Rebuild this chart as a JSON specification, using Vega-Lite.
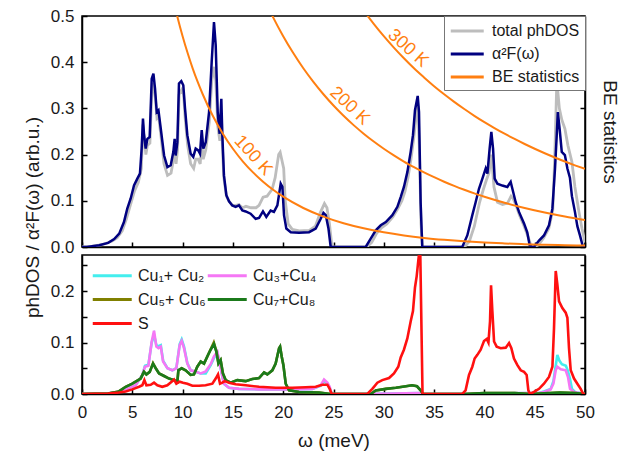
{
  "$schema": "https://vega.github.io/schema/vega-lite/v6.json",
  "padding": {"left": 22, "top": 6, "right": 5, "bottom": 5},
  "bounds": "flush",
  "spacing": 8,
  "config": {
    "font": "Liberation Sans",
    "view": {"stroke": "black", "strokeWidth": 1.5},
    "axis": {"domainColor": "black", "domainWidth": 1.5, "tickColor": "black", "tickWidth": 1.5, "tickSize": -5, "labelFontSize": 17, "labelColor": "#1a1a1a", "titleFontSize": 19, "titleFontWeight": "normal", "titleColor": "#1a1a1a", "grid": false, "labelPadding": 13, "labelFlush": false, "labelOverlap": false}
  },
  "datasets": {
    "top": [
      {"w":0,"v":0,"s":"total phDOS"},{"w":1,"v":0.002,"s":"total phDOS"},{"w":2,"v":0.005,"s":"total phDOS"},{"w":3,"v":0.013,"s":"total phDOS"},{"w":3.5,"v":0.02,"s":"total phDOS"},{"w":4,"v":0.035,"s":"total phDOS"},{"w":4.4,"v":0.06,"s":"total phDOS"},{"w":4.8,"v":0.09,"s":"total phDOS"},{"w":5.2,"v":0.12,"s":"total phDOS"},{"w":5.6,"v":0.14,"s":"total phDOS"},{"w":5.9,"v":0.17,"s":"total phDOS"},{"w":6.05,"v":0.265,"s":"total phDOS"},{"w":6.2,"v":0.23,"s":"total phDOS"},{"w":6.35,"v":0.2,"s":"total phDOS"},{"w":6.5,"v":0.22,"s":"total phDOS"},{"w":6.75,"v":0.225,"s":"total phDOS"},{"w":6.95,"v":0.34,"s":"total phDOS"},{"w":7.1,"v":0.355,"s":"total phDOS"},{"w":7.3,"v":0.32,"s":"total phDOS"},{"w":7.45,"v":0.28,"s":"total phDOS"},{"w":7.6,"v":0.285,"s":"total phDOS"},{"w":7.85,"v":0.24,"s":"total phDOS"},{"w":8.15,"v":0.18,"s":"total phDOS"},{"w":8.5,"v":0.155,"s":"total phDOS"},{"w":8.85,"v":0.16,"s":"total phDOS"},{"w":9.1,"v":0.19,"s":"total phDOS"},{"w":9.25,"v":0.215,"s":"total phDOS"},{"w":9.35,"v":0.18,"s":"total phDOS"},{"w":9.5,"v":0.21,"s":"total phDOS"},{"w":9.65,"v":0.33,"s":"total phDOS"},{"w":9.9,"v":0.34,"s":"total phDOS"},{"w":10.1,"v":0.33,"s":"total phDOS"},{"w":10.25,"v":0.28,"s":"total phDOS"},{"w":10.5,"v":0.22,"s":"total phDOS"},{"w":10.8,"v":0.18,"s":"total phDOS"},{"w":11.1,"v":0.17,"s":"total phDOS"},{"w":11.3,"v":0.19,"s":"total phDOS"},{"w":11.55,"v":0.19,"s":"total phDOS"},{"w":11.75,"v":0.18,"s":"total phDOS"},{"w":11.9,"v":0.23,"s":"total phDOS"},{"w":12.05,"v":0.19,"s":"total phDOS"},{"w":12.3,"v":0.21,"s":"total phDOS"},{"w":12.65,"v":0.27,"s":"total phDOS"},{"w":12.9,"v":0.36,"s":"total phDOS"},{"w":13.12,"v":0.39,"s":"total phDOS"},{"w":13.3,"v":0.36,"s":"total phDOS"},{"w":13.5,"v":0.26,"s":"total phDOS"},{"w":13.7,"v":0.23,"s":"total phDOS"},{"w":13.85,"v":0.29,"s":"total phDOS"},{"w":13.95,"v":0.22,"s":"total phDOS"},{"w":14.1,"v":0.15,"s":"total phDOS"},{"w":14.35,"v":0.11,"s":"total phDOS"},{"w":14.6,"v":0.1,"s":"total phDOS"},{"w":14.95,"v":0.09,"s":"total phDOS"},{"w":15.3,"v":0.09,"s":"total phDOS"},{"w":15.6,"v":0.092,"s":"total phDOS"},{"w":15.95,"v":0.085,"s":"total phDOS"},{"w":16.3,"v":0.088,"s":"total phDOS"},{"w":16.8,"v":0.085,"s":"total phDOS"},{"w":17.3,"v":0.085,"s":"total phDOS"},{"w":17.6,"v":0.09,"s":"total phDOS"},{"w":18,"v":0.108,"s":"total phDOS"},{"w":18.4,"v":0.11,"s":"total phDOS"},{"w":18.9,"v":0.125,"s":"total phDOS"},{"w":19.2,"v":0.15,"s":"total phDOS"},{"w":19.55,"v":0.2,"s":"total phDOS"},{"w":19.7,"v":0.205,"s":"total phDOS"},{"w":19.85,"v":0.19,"s":"total phDOS"},{"w":20.05,"v":0.17,"s":"total phDOS"},{"w":20.2,"v":0.1,"s":"total phDOS"},{"w":20.5,"v":0.05,"s":"total phDOS"},{"w":20.9,"v":0.038,"s":"total phDOS"},{"w":21.6,"v":0.035,"s":"total phDOS"},{"w":22.6,"v":0.036,"s":"total phDOS"},{"w":23.2,"v":0.045,"s":"total phDOS"},{"w":23.7,"v":0.075,"s":"total phDOS"},{"w":24.1,"v":0.094,"s":"total phDOS"},{"w":24.35,"v":0.085,"s":"total phDOS"},{"w":24.6,"v":0.05,"s":"total phDOS"},{"w":24.85,"v":0,"s":"total phDOS"},{"w":28.3,"v":0,"s":"total phDOS"},{"w":28.8,"v":0.01,"s":"total phDOS"},{"w":29.3,"v":0.03,"s":"total phDOS"},{"w":29.8,"v":0.042,"s":"total phDOS"},{"w":30.3,"v":0.05,"s":"total phDOS"},{"w":30.9,"v":0.065,"s":"total phDOS"},{"w":31.4,"v":0.083,"s":"total phDOS"},{"w":31.8,"v":0.1,"s":"total phDOS"},{"w":32.1,"v":0.12,"s":"total phDOS"},{"w":32.4,"v":0.15,"s":"total phDOS"},{"w":32.7,"v":0.19,"s":"total phDOS"},{"w":33,"v":0.24,"s":"total phDOS"},{"w":33.2,"v":0.28,"s":"total phDOS"},{"w":33.4,"v":0.305,"s":"total phDOS"},{"w":33.55,"v":0.2,"s":"total phDOS"},{"w":33.7,"v":0.05,"s":"total phDOS"},{"w":33.85,"v":0,"s":"total phDOS"},{"w":38,"v":0,"s":"total phDOS"},{"w":38.5,"v":0.012,"s":"total phDOS"},{"w":39,"v":0.045,"s":"total phDOS"},{"w":39.5,"v":0.095,"s":"total phDOS"},{"w":39.9,"v":0.125,"s":"total phDOS"},{"w":40.2,"v":0.145,"s":"total phDOS"},{"w":40.45,"v":0.16,"s":"total phDOS"},{"w":40.7,"v":0.2,"s":"total phDOS"},{"w":40.95,"v":0.13,"s":"total phDOS"},{"w":41.3,"v":0.097,"s":"total phDOS"},{"w":41.8,"v":0.092,"s":"total phDOS"},{"w":42.3,"v":0.095,"s":"total phDOS"},{"w":42.65,"v":0.11,"s":"total phDOS"},{"w":42.85,"v":0.105,"s":"total phDOS"},{"w":43.15,"v":0.09,"s":"total phDOS"},{"w":43.5,"v":0.068,"s":"total phDOS"},{"w":43.95,"v":0.045,"s":"total phDOS"},{"w":44.3,"v":0.025,"s":"total phDOS"},{"w":44.6,"v":0.005,"s":"total phDOS"},{"w":44.9,"v":0,"s":"total phDOS"},{"w":45.4,"v":0.005,"s":"total phDOS"},{"w":45.9,"v":0.02,"s":"total phDOS"},{"w":46.4,"v":0.04,"s":"total phDOS"},{"w":46.8,"v":0.08,"s":"total phDOS"},{"w":47,"v":0.2,"s":"total phDOS"},{"w":47.2,"v":0.36,"s":"total phDOS"},{"w":47.45,"v":0.3,"s":"total phDOS"},{"w":47.7,"v":0.275,"s":"total phDOS"},{"w":48,"v":0.256,"s":"total phDOS"},{"w":48.3,"v":0.22,"s":"total phDOS"},{"w":48.7,"v":0.184,"s":"total phDOS"},{"w":49,"v":0.13,"s":"total phDOS"},{"w":49.4,"v":0.076,"s":"total phDOS"},{"w":49.7,"v":0.04,"s":"total phDOS"},{"w":50,"v":0.01,"s":"total phDOS"},
      {"w":0,"v":0,"s":"α²F(ω)"},{"w":0.5,"v":0,"s":"α²F(ω)"},{"w":1.7,"v":0.004,"s":"α²F(ω)"},{"w":2.6,"v":0.009,"s":"α²F(ω)"},{"w":3.2,"v":0.017,"s":"α²F(ω)"},{"w":3.7,"v":0.029,"s":"α²F(ω)"},{"w":4.17,"v":0.054,"s":"α²F(ω)"},{"w":4.34,"v":0.069,"s":"α²F(ω)"},{"w":4.5,"v":0.083,"s":"α²F(ω)"},{"w":4.84,"v":0.105,"s":"α²F(ω)"},{"w":5.17,"v":0.133,"s":"α²F(ω)"},{"w":5.5,"v":0.148,"s":"α²F(ω)"},{"w":5.76,"v":0.159,"s":"α²F(ω)"},{"w":5.93,"v":0.213,"s":"α²F(ω)"},{"w":6.06,"v":0.278,"s":"α²F(ω)"},{"w":6.16,"v":0.245,"s":"α²F(ω)"},{"w":6.33,"v":0.213,"s":"α²F(ω)"},{"w":6.5,"v":0.234,"s":"α²F(ω)"},{"w":6.73,"v":0.238,"s":"α²F(ω)"},{"w":6.93,"v":0.364,"s":"α²F(ω)"},{"w":7.1,"v":0.375,"s":"α²F(ω)"},{"w":7.26,"v":0.343,"s":"α²F(ω)"},{"w":7.43,"v":0.292,"s":"α²F(ω)"},{"w":7.6,"v":0.296,"s":"α²F(ω)"},{"w":7.83,"v":0.256,"s":"α²F(ω)"},{"w":8.16,"v":0.198,"s":"α²F(ω)"},{"w":8.49,"v":0.173,"s":"α²F(ω)"},{"w":8.82,"v":0.177,"s":"α²F(ω)"},{"w":9.08,"v":0.206,"s":"α²F(ω)"},{"w":9.21,"v":0.234,"s":"α²F(ω)"},{"w":9.31,"v":0.198,"s":"α²F(ω)"},{"w":9.48,"v":0.227,"s":"α²F(ω)"},{"w":9.64,"v":0.354,"s":"α²F(ω)"},{"w":9.87,"v":0.359,"s":"α²F(ω)"},{"w":10.07,"v":0.35,"s":"α²F(ω)"},{"w":10.24,"v":0.3,"s":"α²F(ω)"},{"w":10.47,"v":0.242,"s":"α²F(ω)"},{"w":10.8,"v":0.202,"s":"α²F(ω)"},{"w":11.06,"v":0.195,"s":"α²F(ω)"},{"w":11.3,"v":0.213,"s":"α²F(ω)"},{"w":11.56,"v":0.209,"s":"α²F(ω)"},{"w":11.73,"v":0.202,"s":"α²F(ω)"},{"w":11.9,"v":0.253,"s":"α²F(ω)"},{"w":12.06,"v":0.213,"s":"α²F(ω)"},{"w":12.3,"v":0.227,"s":"α²F(ω)"},{"w":12.63,"v":0.292,"s":"α²F(ω)"},{"w":12.89,"v":0.4,"s":"α²F(ω)"},{"w":13.12,"v":0.487,"s":"α²F(ω)"},{"w":13.29,"v":0.437,"s":"α²F(ω)"},{"w":13.49,"v":0.292,"s":"α²F(ω)"},{"w":13.68,"v":0.245,"s":"α²F(ω)"},{"w":13.85,"v":0.321,"s":"α²F(ω)"},{"w":13.95,"v":0.242,"s":"α²F(ω)"},{"w":14.11,"v":0.155,"s":"α²F(ω)"},{"w":14.35,"v":0.112,"s":"α²F(ω)"},{"w":14.61,"v":0.099,"s":"α²F(ω)"},{"w":14.94,"v":0.09,"s":"α²F(ω)"},{"w":15.27,"v":0.087,"s":"α²F(ω)"},{"w":15.6,"v":0.09,"s":"α²F(ω)"},{"w":15.94,"v":0.079,"s":"α²F(ω)"},{"w":16.27,"v":0.077,"s":"α²F(ω)"},{"w":16.76,"v":0.072,"s":"α²F(ω)"},{"w":17.26,"v":0.061,"s":"α²F(ω)"},{"w":17.6,"v":0.063,"s":"α²F(ω)"},{"w":17.99,"v":0.077,"s":"α²F(ω)"},{"w":18.32,"v":0.065,"s":"α²F(ω)"},{"w":18.75,"v":0.079,"s":"α²F(ω)"},{"w":19.08,"v":0.076,"s":"α²F(ω)"},{"w":19.42,"v":0.09,"s":"α²F(ω)"},{"w":19.75,"v":0.137,"s":"α²F(ω)"},{"w":19.92,"v":0.13,"s":"α²F(ω)"},{"w":20.08,"v":0.069,"s":"α²F(ω)"},{"w":20.31,"v":0.04,"s":"α²F(ω)"},{"w":20.75,"v":0.032,"s":"α²F(ω)"},{"w":21.57,"v":0.031,"s":"α²F(ω)"},{"w":22.57,"v":0.032,"s":"α²F(ω)"},{"w":23.23,"v":0.04,"s":"α²F(ω)"},{"w":23.73,"v":0.061,"s":"α²F(ω)"},{"w":24,"v":0.074,"s":"α²F(ω)"},{"w":24.23,"v":0.069,"s":"α²F(ω)"},{"w":24.5,"v":0.04,"s":"α²F(ω)"},{"w":24.72,"v":0,"s":"α²F(ω)"},{"w":28.2,"v":0,"s":"α²F(ω)"},{"w":28.7,"v":0.018,"s":"α²F(ω)"},{"w":29.2,"v":0.036,"s":"α²F(ω)"},{"w":29.7,"v":0.047,"s":"α²F(ω)"},{"w":30.2,"v":0.054,"s":"α²F(ω)"},{"w":30.85,"v":0.069,"s":"α²F(ω)"},{"w":31.35,"v":0.087,"s":"α²F(ω)"},{"w":31.68,"v":0.108,"s":"α²F(ω)"},{"w":32,"v":0.13,"s":"α²F(ω)"},{"w":32.34,"v":0.162,"s":"α²F(ω)"},{"w":32.67,"v":0.206,"s":"α²F(ω)"},{"w":32.9,"v":0.242,"s":"α²F(ω)"},{"w":33.1,"v":0.296,"s":"α²F(ω)"},{"w":33.37,"v":0.327,"s":"α²F(ω)"},{"w":33.5,"v":0.292,"s":"α²F(ω)"},{"w":33.66,"v":0.097,"s":"α²F(ω)"},{"w":33.82,"v":0,"s":"α²F(ω)"},{"w":37.8,"v":0,"s":"α²F(ω)"},{"w":38.3,"v":0.025,"s":"α²F(ω)"},{"w":38.8,"v":0.069,"s":"α²F(ω)"},{"w":39.13,"v":0.097,"s":"α²F(ω)"},{"w":39.46,"v":0.126,"s":"α²F(ω)"},{"w":39.8,"v":0.148,"s":"α²F(ω)"},{"w":40.13,"v":0.17,"s":"α²F(ω)"},{"w":40.3,"v":0.159,"s":"α²F(ω)"},{"w":40.52,"v":0.213,"s":"α²F(ω)"},{"w":40.69,"v":0.249,"s":"α²F(ω)"},{"w":40.86,"v":0.213,"s":"α²F(ω)"},{"w":41.02,"v":0.148,"s":"α²F(ω)"},{"w":41.29,"v":0.137,"s":"α²F(ω)"},{"w":41.78,"v":0.133,"s":"α²F(ω)"},{"w":42.28,"v":0.13,"s":"α²F(ω)"},{"w":42.61,"v":0.141,"s":"α²F(ω)"},{"w":42.78,"v":0.126,"s":"α²F(ω)"},{"w":43.11,"v":0.097,"s":"α²F(ω)"},{"w":43.44,"v":0.076,"s":"α²F(ω)"},{"w":43.94,"v":0.051,"s":"α²F(ω)"},{"w":44.26,"v":0.032,"s":"α²F(ω)"},{"w":44.5,"v":0.004,"s":"α²F(ω)"},{"w":44.76,"v":0,"s":"α²F(ω)"},{"w":44.92,"v":0,"s":"α²F(ω)"},{"w":45.43,"v":0.014,"s":"α²F(ω)"},{"w":45.92,"v":0.025,"s":"α²F(ω)"},{"w":46.42,"v":0.047,"s":"α²F(ω)"},{"w":46.76,"v":0.083,"s":"α²F(ω)"},{"w":47.02,"v":0.17,"s":"α²F(ω)"},{"w":47.19,"v":0.242,"s":"α²F(ω)"},{"w":47.3,"v":0.292,"s":"α²F(ω)"},{"w":47.49,"v":0.253,"s":"α²F(ω)"},{"w":47.69,"v":0.206,"s":"α²F(ω)"},{"w":48,"v":0.199,"s":"α²F(ω)"},{"w":48.25,"v":0.17,"s":"α²F(ω)"},{"w":48.5,"v":0.15,"s":"α²F(ω)"},{"w":48.7,"v":0.11,"s":"α²F(ω)"},{"w":49,"v":0.076,"s":"α²F(ω)"},{"w":49.24,"v":0.045,"s":"α²F(ω)"},{"w":49.5,"v":0.025,"s":"α²F(ω)"},{"w":49.8,"v":0,"s":"α²F(ω)"},{"w":50,"v":0,"s":"α²F(ω)"}
    ],
    "be": [
      {"w":9,"v":0.543,"T":"100 K","s":"BE statistics"},{"w":9.5,"v":0.497,"T":"100 K","s":"BE statistics"},{"w":10,"v":0.4563,"T":"100 K","s":"BE statistics"},{"w":10.5,"v":0.4198,"T":"100 K","s":"BE statistics"},{"w":11,"v":0.3868,"T":"100 K","s":"BE statistics"},{"w":11.5,"v":0.3573,"T":"100 K","s":"BE statistics"},{"w":12,"v":0.3306,"T":"100 K","s":"BE statistics"},{"w":13,"v":0.284,"T":"100 K","s":"BE statistics"},{"w":14,"v":0.2453,"T":"100 K","s":"BE statistics"},{"w":15,"v":0.2127,"T":"100 K","s":"BE statistics"},{"w":16,"v":0.185,"T":"100 K","s":"BE statistics"},{"w":17,"v":0.1615,"T":"100 K","s":"BE statistics"},{"w":18,"v":0.1413,"T":"100 K","s":"BE statistics"},{"w":19,"v":0.1239,"T":"100 K","s":"BE statistics"},{"w":20,"v":0.1089,"T":"100 K","s":"BE statistics"},{"w":22,"v":0.0844,"T":"100 K","s":"BE statistics"},{"w":24,"v":0.0658,"T":"100 K","s":"BE statistics"},{"w":26,"v":0.0514,"T":"100 K","s":"BE statistics"},{"w":28,"v":0.0404,"T":"100 K","s":"BE statistics"},{"w":30,"v":0.0318,"T":"100 K","s":"BE statistics"},{"w":32,"v":0.025,"T":"100 K","s":"BE statistics"},{"w":34,"v":0.0197,"T":"100 K","s":"BE statistics"},{"w":36,"v":0.0156,"T":"100 K","s":"BE statistics"},{"w":38,"v":0.0123,"T":"100 K","s":"BE statistics"},{"w":40,"v":0.0097,"T":"100 K","s":"BE statistics"},{"w":42,"v":0.0077,"T":"100 K","s":"BE statistics"},{"w":44,"v":0.0061,"T":"100 K","s":"BE statistics"},{"w":46,"v":0.0048,"T":"100 K","s":"BE statistics"},{"w":48,"v":0.0038,"T":"100 K","s":"BE statistics"},{"w":50,"v":0.003,"T":"100 K","s":"BE statistics"},
      {"w":18,"v":0.543,"T":"200 K","s":"BE statistics"},{"w":19,"v":0.4971,"T":"200 K","s":"BE statistics"},{"w":20,"v":0.4563,"T":"200 K","s":"BE statistics"},{"w":21,"v":0.4198,"T":"200 K","s":"BE statistics"},{"w":22,"v":0.3868,"T":"200 K","s":"BE statistics"},{"w":23,"v":0.3574,"T":"200 K","s":"BE statistics"},{"w":24,"v":0.3306,"T":"200 K","s":"BE statistics"},{"w":25,"v":0.3062,"T":"200 K","s":"BE statistics"},{"w":26,"v":0.284,"T":"200 K","s":"BE statistics"},{"w":27,"v":0.2638,"T":"200 K","s":"BE statistics"},{"w":28,"v":0.2453,"T":"200 K","s":"BE statistics"},{"w":29,"v":0.2283,"T":"200 K","s":"BE statistics"},{"w":30,"v":0.2127,"T":"200 K","s":"BE statistics"},{"w":31,"v":0.1984,"T":"200 K","s":"BE statistics"},{"w":32,"v":0.185,"T":"200 K","s":"BE statistics"},{"w":33,"v":0.1729,"T":"200 K","s":"BE statistics"},{"w":34,"v":0.1615,"T":"200 K","s":"BE statistics"},{"w":35,"v":0.1511,"T":"200 K","s":"BE statistics"},{"w":36,"v":0.1413,"T":"200 K","s":"BE statistics"},{"w":37,"v":0.1323,"T":"200 K","s":"BE statistics"},{"w":38,"v":0.1239,"T":"200 K","s":"BE statistics"},{"w":39,"v":0.116,"T":"200 K","s":"BE statistics"},{"w":40,"v":0.1089,"T":"200 K","s":"BE statistics"},{"w":42,"v":0.0959,"T":"200 K","s":"BE statistics"},{"w":44,"v":0.0844,"T":"200 K","s":"BE statistics"},{"w":46,"v":0.0745,"T":"200 K","s":"BE statistics"},{"w":48,"v":0.0658,"T":"200 K","s":"BE statistics"},{"w":50,"v":0.0582,"T":"200 K","s":"BE statistics"},
      {"w":27,"v":0.543,"T":"300 K","s":"BE statistics"},{"w":28,"v":0.5118,"T":"300 K","s":"BE statistics"},{"w":29,"v":0.483,"T":"300 K","s":"BE statistics"},{"w":30,"v":0.4563,"T":"300 K","s":"BE statistics"},{"w":31,"v":0.4316,"T":"300 K","s":"BE statistics"},{"w":32,"v":0.4085,"T":"300 K","s":"BE statistics"},{"w":33,"v":0.3868,"T":"300 K","s":"BE statistics"},{"w":34,"v":0.367,"T":"300 K","s":"BE statistics"},{"w":35,"v":0.3481,"T":"300 K","s":"BE statistics"},{"w":36,"v":0.3306,"T":"300 K","s":"BE statistics"},{"w":37,"v":0.3141,"T":"300 K","s":"BE statistics"},{"w":38,"v":0.2986,"T":"300 K","s":"BE statistics"},{"w":39,"v":0.284,"T":"300 K","s":"BE statistics"},{"w":40,"v":0.2703,"T":"300 K","s":"BE statistics"},{"w":41,"v":0.2575,"T":"300 K","s":"BE statistics"},{"w":42,"v":0.2453,"T":"300 K","s":"BE statistics"},{"w":43,"v":0.2338,"T":"300 K","s":"BE statistics"},{"w":44,"v":0.2229,"T":"300 K","s":"BE statistics"},{"w":45,"v":0.2127,"T":"300 K","s":"BE statistics"},{"w":46,"v":0.203,"T":"300 K","s":"BE statistics"},{"w":47,"v":0.1938,"T":"300 K","s":"BE statistics"},{"w":48,"v":0.185,"T":"300 K","s":"BE statistics"},{"w":49,"v":0.1768,"T":"300 K","s":"BE statistics"},{"w":50,"v":0.169,"T":"300 K","s":"BE statistics"}
    ],
    "lab": [
      {"w":17.0,"v":0.198,"t":"100 K"},
      {"w":26.6,"v":0.305,"t":"200 K"},
      {"w":32.4,"v":0.43,"t":"300 K"}
    ],
    "bot": [
      {"w":0,"v":0,"s":"Cu₁+ Cu₂"},{"w":2.5,"v":0.001,"s":"Cu₁+ Cu₂"},{"w":3.5,"v":0.004,"s":"Cu₁+ Cu₂"},{"w":4.34,"v":0.008,"s":"Cu₁+ Cu₂"},{"w":5.33,"v":0.017,"s":"Cu₁+ Cu₂"},{"w":6,"v":0.037,"s":"Cu₁+ Cu₂"},{"w":6.26,"v":0.055,"s":"Cu₁+ Cu₂"},{"w":6.6,"v":0.057,"s":"Cu₁+ Cu₂"},{"w":6.93,"v":0.1,"s":"Cu₁+ Cu₂"},{"w":7.16,"v":0.115,"s":"Cu₁+ Cu₂"},{"w":7.39,"v":0.095,"s":"Cu₁+ Cu₂"},{"w":7.6,"v":0.093,"s":"Cu₁+ Cu₂"},{"w":7.83,"v":0.095,"s":"Cu₁+ Cu₂"},{"w":8.06,"v":0.065,"s":"Cu₁+ Cu₂"},{"w":8.49,"v":0.05,"s":"Cu₁+ Cu₂"},{"w":8.98,"v":0.046,"s":"Cu₁+ Cu₂"},{"w":9.38,"v":0.05,"s":"Cu₁+ Cu₂"},{"w":9.71,"v":0.097,"s":"Cu₁+ Cu₂"},{"w":9.91,"v":0.106,"s":"Cu₁+ Cu₂"},{"w":10.14,"v":0.092,"s":"Cu₁+ Cu₂"},{"w":10.47,"v":0.06,"s":"Cu₁+ Cu₂"},{"w":10.8,"v":0.046,"s":"Cu₁+ Cu₂"},{"w":11.3,"v":0.043,"s":"Cu₁+ Cu₂"},{"w":11.8,"v":0.04,"s":"Cu₁+ Cu₂"},{"w":12.3,"v":0.04,"s":"Cu₁+ Cu₂"},{"w":12.79,"v":0.056,"s":"Cu₁+ Cu₂"},{"w":13.12,"v":0.07,"s":"Cu₁+ Cu₂"},{"w":13.45,"v":0.08,"s":"Cu₁+ Cu₂"},{"w":13.78,"v":0.05,"s":"Cu₁+ Cu₂"},{"w":14.11,"v":0.02,"s":"Cu₁+ Cu₂"},{"w":14.61,"v":0.012,"s":"Cu₁+ Cu₂"},{"w":15.6,"v":0.01,"s":"Cu₁+ Cu₂"},{"w":17.6,"v":0.009,"s":"Cu₁+ Cu₂"},{"w":20.91,"v":0.009,"s":"Cu₁+ Cu₂"},{"w":22.9,"v":0.01,"s":"Cu₁+ Cu₂"},{"w":23.73,"v":0.016,"s":"Cu₁+ Cu₂"},{"w":24.06,"v":0.025,"s":"Cu₁+ Cu₂"},{"w":24.39,"v":0.02,"s":"Cu₁+ Cu₂"},{"w":24.62,"v":0.012,"s":"Cu₁+ Cu₂"},{"w":24.82,"v":0,"s":"Cu₁+ Cu₂"},{"w":28,"v":0,"s":"Cu₁+ Cu₂"},{"w":33.5,"v":0.002,"s":"Cu₁+ Cu₂"},{"w":34,"v":0,"s":"Cu₁+ Cu₂"},{"w":38,"v":0,"s":"Cu₁+ Cu₂"},{"w":44.5,"v":0.002,"s":"Cu₁+ Cu₂"},{"w":45.43,"v":0.002,"s":"Cu₁+ Cu₂"},{"w":45.92,"v":0.005,"s":"Cu₁+ Cu₂"},{"w":46.59,"v":0.01,"s":"Cu₁+ Cu₂"},{"w":46.86,"v":0.025,"s":"Cu₁+ Cu₂"},{"w":47.09,"v":0.055,"s":"Cu₁+ Cu₂"},{"w":47.25,"v":0.076,"s":"Cu₁+ Cu₂"},{"w":47.45,"v":0.065,"s":"Cu₁+ Cu₂"},{"w":47.7,"v":0.058,"s":"Cu₁+ Cu₂"},{"w":48.1,"v":0.055,"s":"Cu₁+ Cu₂"},{"w":48.3,"v":0.045,"s":"Cu₁+ Cu₂"},{"w":48.5,"v":0.03,"s":"Cu₁+ Cu₂"},{"w":48.7,"v":0.01,"s":"Cu₁+ Cu₂"},{"w":49,"v":0.004,"s":"Cu₁+ Cu₂"},{"w":50,"v":0,"s":"Cu₁+ Cu₂"},
      {"w":0,"v":0,"s":"Cu₃+Cu₄"},{"w":2.5,"v":0.001,"s":"Cu₃+Cu₄"},{"w":3.5,"v":0.004,"s":"Cu₃+Cu₄"},{"w":4.34,"v":0.008,"s":"Cu₃+Cu₄"},{"w":5.33,"v":0.017,"s":"Cu₃+Cu₄"},{"w":6,"v":0.037,"s":"Cu₃+Cu₄"},{"w":6.26,"v":0.053,"s":"Cu₃+Cu₄"},{"w":6.6,"v":0.055,"s":"Cu₃+Cu₄"},{"w":6.93,"v":0.102,"s":"Cu₃+Cu₄"},{"w":7.16,"v":0.123,"s":"Cu₃+Cu₄"},{"w":7.39,"v":0.092,"s":"Cu₃+Cu₄"},{"w":7.6,"v":0.089,"s":"Cu₃+Cu₄"},{"w":7.83,"v":0.092,"s":"Cu₃+Cu₄"},{"w":8.06,"v":0.063,"s":"Cu₃+Cu₄"},{"w":8.49,"v":0.05,"s":"Cu₃+Cu₄"},{"w":8.98,"v":0.046,"s":"Cu₃+Cu₄"},{"w":9.38,"v":0.05,"s":"Cu₃+Cu₄"},{"w":9.71,"v":0.095,"s":"Cu₃+Cu₄"},{"w":9.91,"v":0.103,"s":"Cu₃+Cu₄"},{"w":10.14,"v":0.089,"s":"Cu₃+Cu₄"},{"w":10.47,"v":0.059,"s":"Cu₃+Cu₄"},{"w":10.8,"v":0.046,"s":"Cu₃+Cu₄"},{"w":11.3,"v":0.043,"s":"Cu₃+Cu₄"},{"w":11.8,"v":0.04,"s":"Cu₃+Cu₄"},{"w":12.3,"v":0.044,"s":"Cu₃+Cu₄"},{"w":12.79,"v":0.058,"s":"Cu₃+Cu₄"},{"w":13.12,"v":0.073,"s":"Cu₃+Cu₄"},{"w":13.45,"v":0.082,"s":"Cu₃+Cu₄"},{"w":13.78,"v":0.05,"s":"Cu₃+Cu₄"},{"w":14.11,"v":0.02,"s":"Cu₃+Cu₄"},{"w":14.61,"v":0.012,"s":"Cu₃+Cu₄"},{"w":15.6,"v":0.01,"s":"Cu₃+Cu₄"},{"w":17.6,"v":0.009,"s":"Cu₃+Cu₄"},{"w":20.91,"v":0.009,"s":"Cu₃+Cu₄"},{"w":22.9,"v":0.01,"s":"Cu₃+Cu₄"},{"w":23.73,"v":0.017,"s":"Cu₃+Cu₄"},{"w":24.06,"v":0.028,"s":"Cu₃+Cu₄"},{"w":24.39,"v":0.022,"s":"Cu₃+Cu₄"},{"w":24.62,"v":0.014,"s":"Cu₃+Cu₄"},{"w":24.82,"v":0,"s":"Cu₃+Cu₄"},{"w":28,"v":0,"s":"Cu₃+Cu₄"},{"w":33.5,"v":0.002,"s":"Cu₃+Cu₄"},{"w":34,"v":0,"s":"Cu₃+Cu₄"},{"w":38,"v":0,"s":"Cu₃+Cu₄"},{"w":44.5,"v":0.002,"s":"Cu₃+Cu₄"},{"w":45.43,"v":0.002,"s":"Cu₃+Cu₄"},{"w":45.92,"v":0.004,"s":"Cu₃+Cu₄"},{"w":46.59,"v":0.009,"s":"Cu₃+Cu₄"},{"w":46.86,"v":0.02,"s":"Cu₃+Cu₄"},{"w":47.09,"v":0.046,"s":"Cu₃+Cu₄"},{"w":47.25,"v":0.053,"s":"Cu₃+Cu₄"},{"w":47.59,"v":0.048,"s":"Cu₃+Cu₄"},{"w":48.08,"v":0.046,"s":"Cu₃+Cu₄"},{"w":48.31,"v":0.033,"s":"Cu₃+Cu₄"},{"w":48.51,"v":0.01,"s":"Cu₃+Cu₄"},{"w":48.91,"v":0.004,"s":"Cu₃+Cu₄"},{"w":50,"v":0,"s":"Cu₃+Cu₄"},
      {"w":0,"v":0,"s":"Cu₅+ Cu₆"},{"w":2.6,"v":0.001,"s":"Cu₅+ Cu₆"},{"w":3.67,"v":0.005,"s":"Cu₅+ Cu₆"},{"w":4.34,"v":0.014,"s":"Cu₅+ Cu₆"},{"w":5,"v":0.02,"s":"Cu₅+ Cu₆"},{"w":5.83,"v":0.03,"s":"Cu₅+ Cu₆"},{"w":6.16,"v":0.043,"s":"Cu₅+ Cu₆"},{"w":6.4,"v":0.038,"s":"Cu₅+ Cu₆"},{"w":6.73,"v":0.043,"s":"Cu₅+ Cu₆"},{"w":7.06,"v":0.06,"s":"Cu₅+ Cu₆"},{"w":7.33,"v":0.05,"s":"Cu₅+ Cu₆"},{"w":7.66,"v":0.04,"s":"Cu₅+ Cu₆"},{"w":8.16,"v":0.035,"s":"Cu₅+ Cu₆"},{"w":8.65,"v":0.03,"s":"Cu₅+ Cu₆"},{"w":9.15,"v":0.027,"s":"Cu₅+ Cu₆"},{"w":9.48,"v":0.024,"s":"Cu₅+ Cu₆"},{"w":9.58,"v":0.046,"s":"Cu₅+ Cu₆"},{"w":9.91,"v":0.05,"s":"Cu₅+ Cu₆"},{"w":10.3,"v":0.046,"s":"Cu₅+ Cu₆"},{"w":10.8,"v":0.037,"s":"Cu₅+ Cu₆"},{"w":11.13,"v":0.038,"s":"Cu₅+ Cu₆"},{"w":11.46,"v":0.053,"s":"Cu₅+ Cu₆"},{"w":11.8,"v":0.063,"s":"Cu₅+ Cu₆"},{"w":12.13,"v":0.059,"s":"Cu₅+ Cu₆"},{"w":12.46,"v":0.073,"s":"Cu₅+ Cu₆"},{"w":12.79,"v":0.087,"s":"Cu₅+ Cu₆"},{"w":13.1,"v":0.1,"s":"Cu₅+ Cu₆"},{"w":13.36,"v":0.083,"s":"Cu₅+ Cu₆"},{"w":13.56,"v":0.06,"s":"Cu₅+ Cu₆"},{"w":13.78,"v":0.066,"s":"Cu₅+ Cu₆"},{"w":14.01,"v":0.04,"s":"Cu₅+ Cu₆"},{"w":14.28,"v":0.027,"s":"Cu₅+ Cu₆"},{"w":14.77,"v":0.022,"s":"Cu₅+ Cu₆"},{"w":15.44,"v":0.027,"s":"Cu₅+ Cu₆"},{"w":16.27,"v":0.025,"s":"Cu₅+ Cu₆"},{"w":16.93,"v":0.029,"s":"Cu₅+ Cu₆"},{"w":17.6,"v":0.031,"s":"Cu₅+ Cu₆"},{"w":18.1,"v":0.042,"s":"Cu₅+ Cu₆"},{"w":18.42,"v":0.038,"s":"Cu₅+ Cu₆"},{"w":18.92,"v":0.046,"s":"Cu₅+ Cu₆"},{"w":19.25,"v":0.059,"s":"Cu₅+ Cu₆"},{"w":19.59,"v":0.089,"s":"Cu₅+ Cu₆"},{"w":19.69,"v":0.092,"s":"Cu₅+ Cu₆"},{"w":19.85,"v":0.073,"s":"Cu₅+ Cu₆"},{"w":20.02,"v":0.056,"s":"Cu₅+ Cu₆"},{"w":20.25,"v":0.02,"s":"Cu₅+ Cu₆"},{"w":20.58,"v":0.007,"s":"Cu₅+ Cu₆"},{"w":21.57,"v":0.004,"s":"Cu₅+ Cu₆"},{"w":23.56,"v":0.003,"s":"Cu₅+ Cu₆"},{"w":24.72,"v":0,"s":"Cu₅+ Cu₆"},{"w":28.7,"v":0,"s":"Cu₅+ Cu₆"},{"w":29.2,"v":0.007,"s":"Cu₅+ Cu₆"},{"w":30.2,"v":0.01,"s":"Cu₅+ Cu₆"},{"w":31.2,"v":0.012,"s":"Cu₅+ Cu₆"},{"w":32.2,"v":0.015,"s":"Cu₅+ Cu₆"},{"w":32.8,"v":0.017,"s":"Cu₅+ Cu₆"},{"w":33.3,"v":0.015,"s":"Cu₅+ Cu₆"},{"w":33.66,"v":0.007,"s":"Cu₅+ Cu₆"},{"w":33.9,"v":0,"s":"Cu₅+ Cu₆"},{"w":38,"v":0,"s":"Cu₅+ Cu₆"},{"w":40,"v":0.002,"s":"Cu₅+ Cu₆"},{"w":43,"v":0.002,"s":"Cu₅+ Cu₆"},{"w":44.6,"v":0,"s":"Cu₅+ Cu₆"},{"w":45.5,"v":0.001,"s":"Cu₅+ Cu₆"},{"w":47.5,"v":0.003,"s":"Cu₅+ Cu₆"},{"w":49,"v":0.002,"s":"Cu₅+ Cu₆"},{"w":50,"v":0,"s":"Cu₅+ Cu₆"},
      {"w":0,"v":0,"s":"Cu₇+Cu₈"},{"w":2.6,"v":0.001,"s":"Cu₇+Cu₈"},{"w":3.67,"v":0.005,"s":"Cu₇+Cu₈"},{"w":4.34,"v":0.014,"s":"Cu₇+Cu₈"},{"w":5,"v":0.02,"s":"Cu₇+Cu₈"},{"w":5.83,"v":0.03,"s":"Cu₇+Cu₈"},{"w":6.16,"v":0.043,"s":"Cu₇+Cu₈"},{"w":6.4,"v":0.038,"s":"Cu₇+Cu₈"},{"w":6.73,"v":0.043,"s":"Cu₇+Cu₈"},{"w":7.06,"v":0.059,"s":"Cu₇+Cu₈"},{"w":7.33,"v":0.05,"s":"Cu₇+Cu₈"},{"w":7.66,"v":0.04,"s":"Cu₇+Cu₈"},{"w":8.16,"v":0.035,"s":"Cu₇+Cu₈"},{"w":8.65,"v":0.03,"s":"Cu₇+Cu₈"},{"w":9.15,"v":0.027,"s":"Cu₇+Cu₈"},{"w":9.48,"v":0.024,"s":"Cu₇+Cu₈"},{"w":9.58,"v":0.046,"s":"Cu₇+Cu₈"},{"w":9.91,"v":0.05,"s":"Cu₇+Cu₈"},{"w":10.3,"v":0.046,"s":"Cu₇+Cu₈"},{"w":10.8,"v":0.037,"s":"Cu₇+Cu₈"},{"w":11.13,"v":0.038,"s":"Cu₇+Cu₈"},{"w":11.46,"v":0.053,"s":"Cu₇+Cu₈"},{"w":11.8,"v":0.063,"s":"Cu₇+Cu₈"},{"w":12.13,"v":0.059,"s":"Cu₇+Cu₈"},{"w":12.46,"v":0.073,"s":"Cu₇+Cu₈"},{"w":12.79,"v":0.086,"s":"Cu₇+Cu₈"},{"w":13.12,"v":0.097,"s":"Cu₇+Cu₈"},{"w":13.36,"v":0.082,"s":"Cu₇+Cu₈"},{"w":13.56,"v":0.059,"s":"Cu₇+Cu₈"},{"w":13.78,"v":0.066,"s":"Cu₇+Cu₈"},{"w":14.01,"v":0.04,"s":"Cu₇+Cu₈"},{"w":14.28,"v":0.027,"s":"Cu₇+Cu₈"},{"w":14.77,"v":0.022,"s":"Cu₇+Cu₈"},{"w":15.44,"v":0.027,"s":"Cu₇+Cu₈"},{"w":16.27,"v":0.025,"s":"Cu₇+Cu₈"},{"w":16.93,"v":0.029,"s":"Cu₇+Cu₈"},{"w":17.6,"v":0.031,"s":"Cu₇+Cu₈"},{"w":18.1,"v":0.042,"s":"Cu₇+Cu₈"},{"w":18.42,"v":0.038,"s":"Cu₇+Cu₈"},{"w":18.92,"v":0.046,"s":"Cu₇+Cu₈"},{"w":19.25,"v":0.059,"s":"Cu₇+Cu₈"},{"w":19.59,"v":0.089,"s":"Cu₇+Cu₈"},{"w":19.69,"v":0.092,"s":"Cu₇+Cu₈"},{"w":19.85,"v":0.073,"s":"Cu₇+Cu₈"},{"w":20.02,"v":0.056,"s":"Cu₇+Cu₈"},{"w":20.25,"v":0.02,"s":"Cu₇+Cu₈"},{"w":20.58,"v":0.007,"s":"Cu₇+Cu₈"},{"w":21.57,"v":0.004,"s":"Cu₇+Cu₈"},{"w":23.56,"v":0.003,"s":"Cu₇+Cu₈"},{"w":24.72,"v":0,"s":"Cu₇+Cu₈"},{"w":28.7,"v":0,"s":"Cu₇+Cu₈"},{"w":29.2,"v":0.007,"s":"Cu₇+Cu₈"},{"w":30.2,"v":0.01,"s":"Cu₇+Cu₈"},{"w":31.2,"v":0.012,"s":"Cu₇+Cu₈"},{"w":32.2,"v":0.015,"s":"Cu₇+Cu₈"},{"w":32.8,"v":0.017,"s":"Cu₇+Cu₈"},{"w":33.3,"v":0.015,"s":"Cu₇+Cu₈"},{"w":33.66,"v":0.007,"s":"Cu₇+Cu₈"},{"w":33.9,"v":0,"s":"Cu₇+Cu₈"},{"w":38,"v":0,"s":"Cu₇+Cu₈"},{"w":40,"v":0.002,"s":"Cu₇+Cu₈"},{"w":43,"v":0.002,"s":"Cu₇+Cu₈"},{"w":44.6,"v":0,"s":"Cu₇+Cu₈"},{"w":45.5,"v":0.001,"s":"Cu₇+Cu₈"},{"w":47.5,"v":0.003,"s":"Cu₇+Cu₈"},{"w":49,"v":0.002,"s":"Cu₇+Cu₈"},{"w":50,"v":0,"s":"Cu₇+Cu₈"},
      {"w":0,"v":0,"s":"S"},{"w":2.6,"v":0.001,"s":"S"},{"w":3.67,"v":0.003,"s":"S"},{"w":4.34,"v":0.005,"s":"S"},{"w":5,"v":0.009,"s":"S"},{"w":5.67,"v":0.014,"s":"S"},{"w":6,"v":0.017,"s":"S"},{"w":6.2,"v":0.027,"s":"S"},{"w":6.4,"v":0.017,"s":"S"},{"w":6.83,"v":0.018,"s":"S"},{"w":7.16,"v":0.022,"s":"S"},{"w":7.49,"v":0.017,"s":"S"},{"w":7.98,"v":0.014,"s":"S"},{"w":8.48,"v":0.017,"s":"S"},{"w":8.91,"v":0.024,"s":"S"},{"w":9.15,"v":0.028,"s":"S"},{"w":9.38,"v":0.02,"s":"S"},{"w":9.71,"v":0.024,"s":"S"},{"w":10.04,"v":0.022,"s":"S"},{"w":10.47,"v":0.02,"s":"S"},{"w":10.97,"v":0.016,"s":"S"},{"w":11.63,"v":0.016,"s":"S"},{"w":12.29,"v":0.017,"s":"S"},{"w":12.96,"v":0.02,"s":"S"},{"w":13.29,"v":0.03,"s":"S"},{"w":13.52,"v":0.038,"s":"S"},{"w":13.72,"v":0.02,"s":"S"},{"w":13.95,"v":0.022,"s":"S"},{"w":14.18,"v":0.025,"s":"S"},{"w":14.61,"v":0.022,"s":"S"},{"w":15.27,"v":0.019,"s":"S"},{"w":16.27,"v":0.017,"s":"S"},{"w":17.6,"v":0.014,"s":"S"},{"w":19.25,"v":0.012,"s":"S"},{"w":20.91,"v":0.012,"s":"S"},{"w":22.24,"v":0.013,"s":"S"},{"w":23.23,"v":0.014,"s":"S"},{"w":23.9,"v":0.018,"s":"S"},{"w":24.39,"v":0.018,"s":"S"},{"w":24.62,"v":0.01,"s":"S"},{"w":24.82,"v":0,"s":"S"},{"w":28.36,"v":0,"s":"S"},{"w":28.86,"v":0.01,"s":"S"},{"w":29.36,"v":0.022,"s":"S"},{"w":29.85,"v":0.027,"s":"S"},{"w":30.52,"v":0.031,"s":"S"},{"w":31.01,"v":0.04,"s":"S"},{"w":31.44,"v":0.053,"s":"S"},{"w":31.68,"v":0.071,"s":"S"},{"w":32,"v":0.086,"s":"S"},{"w":32.34,"v":0.108,"s":"S"},{"w":32.67,"v":0.141,"s":"S"},{"w":32.9,"v":0.161,"s":"S"},{"w":33.1,"v":0.207,"s":"S"},{"w":33.27,"v":0.229,"s":"S"},{"w":33.43,"v":0.259,"s":"S"},{"w":33.55,"v":0.28,"s":"S"},{"w":33.62,"v":0.28,"s":"S"},{"w":33.85,"v":0,"s":"S"},{"w":37.8,"v":0,"s":"S"},{"w":38.13,"v":0.007,"s":"S"},{"w":38.47,"v":0.037,"s":"S"},{"w":38.8,"v":0.053,"s":"S"},{"w":39.03,"v":0.069,"s":"S"},{"w":39.3,"v":0.076,"s":"S"},{"w":39.63,"v":0.086,"s":"S"},{"w":39.96,"v":0.103,"s":"S"},{"w":40.23,"v":0.107,"s":"S"},{"w":40.4,"v":0.1,"s":"S"},{"w":40.56,"v":0.141,"s":"S"},{"w":40.66,"v":0.211,"s":"S"},{"w":40.79,"v":0.161,"s":"S"},{"w":40.96,"v":0.102,"s":"S"},{"w":41.22,"v":0.092,"s":"S"},{"w":41.62,"v":0.089,"s":"S"},{"w":42.12,"v":0.09,"s":"S"},{"w":42.45,"v":0.099,"s":"S"},{"w":42.68,"v":0.089,"s":"S"},{"w":42.94,"v":0.069,"s":"S"},{"w":43.28,"v":0.056,"s":"S"},{"w":43.61,"v":0.046,"s":"S"},{"w":43.94,"v":0.043,"s":"S"},{"w":44.2,"v":0.037,"s":"S"},{"w":44.37,"v":0.007,"s":"S"},{"w":44.53,"v":0,"s":"S"},{"w":44.93,"v":0.004,"s":"S"},{"w":45.43,"v":0.01,"s":"S"},{"w":45.92,"v":0.02,"s":"S"},{"w":46.42,"v":0.033,"s":"S"},{"w":46.76,"v":0.053,"s":"S"},{"w":46.92,"v":0.128,"s":"S"},{"w":47.09,"v":0.239,"s":"S"},{"w":47.25,"v":0.213,"s":"S"},{"w":47.42,"v":0.18,"s":"S"},{"w":47.75,"v":0.167,"s":"S"},{"w":48.08,"v":0.158,"s":"S"},{"w":48.25,"v":0.148,"s":"S"},{"w":48.41,"v":0.089,"s":"S"},{"w":48.58,"v":0.046,"s":"S"},{"w":48.91,"v":0.03,"s":"S"},{"w":49.24,"v":0.02,"s":"S"},{"w":49.57,"v":0.01,"s":"S"},{"w":49.83,"v":0,"s":"S"},{"w":50,"v":0,"s":"S"}
    ]
  },
  "resolve": {"scale": {"color": "independent"}, "legend": {"color": "independent"}},
  "vconcat": [
    {
      "width": 503,
      "height": 231,
      "layer": [
        {
          "layer": [
            {
              "data": {"name": "top"},
              "transform": [{"filter": "datum.s === 'total phDOS'"}],
              "mark": {"type": "line", "strokeWidth": 2.8, "clip": true},
              "encoding": {
                "x": {"field": "w", "type": "quantitative", "scale": {"domain": [0, 50], "nice": false}, "axis": {"values": [0,2.5,5,7.5,10,12.5,15,17.5,20,22.5,25,27.5,30,32.5,35,37.5,40,42.5,45,47.5,50], "labels": false, "title": null}},
                "y": {"field": "v", "type": "quantitative", "scale": {"domain": [0, 0.5], "nice": false}, "axis": {"values": [0,0.05,0.1,0.15,0.2,0.25,0.3,0.35,0.4,0.45,0.5], "labelExpr": "round(datum.value*100) % 10 === 0 ? format(datum.value, '.1f') : ''", "title": "phDOS / α²F(ω) (arb.u.)", "titleY": 201, "titlePadding": 8}},
                "color": {"field": "s", "type": "nominal", "scale": {"domain": ["total phDOS", "α²F(ω)", "BE statistics"], "range": ["#bdbdbd", "#000080", "#ff7f11"]},
                  "legend": {"title": null, "orient": "top-right", "offset": 0, "strokeColor": "#777777", "fillColor": "white", "padding": 5, "symbolType": "M-1,0H3", "symbolSize": 272, "symbolStrokeWidth": 3, "labelFontSize": 16, "labelColor": "#1a1a1a", "labelOffset": 23, "rowPadding": 5, "cornerRadius": 0}}
              }
            },
            {
              "data": {"name": "top"},
              "transform": [{"filter": "datum.s !== 'total phDOS'"}],
              "mark": {"type": "line", "strokeWidth": 2.5, "clip": true},
              "encoding": {
                "x": {"field": "w", "type": "quantitative"},
                "y": {"field": "v", "type": "quantitative"},
                "color": {"field": "s", "type": "nominal"}
              }
            },
            {
              "data": {"name": "lab"},
              "transform": [{"filter": "datum.t === '100 K'"}],
              "mark": {"type": "text", "angle": 48, "fontSize": 18, "color": "#ff7f11"},
              "encoding": {"x": {"field": "w", "type": "quantitative"}, "y": {"field": "v", "type": "quantitative"}, "text": {"field": "t"}}
            },
            {
              "data": {"name": "lab"},
              "transform": [{"filter": "datum.t === '200 K'"}],
              "mark": {"type": "text", "angle": 43, "fontSize": 18, "color": "#ff7f11"},
              "encoding": {"x": {"field": "w", "type": "quantitative"}, "y": {"field": "v", "type": "quantitative"}, "text": {"field": "t"}}
            },
            {
              "data": {"name": "lab"},
              "transform": [{"filter": "datum.t === '300 K'"}],
              "mark": {"type": "text", "angle": 42, "fontSize": 18, "color": "#ff7f11"},
              "encoding": {"x": {"field": "w", "type": "quantitative"}, "y": {"field": "v", "type": "quantitative"}, "text": {"field": "t"}}
            }
          ]
        },
        {
          "data": {"name": "be"},
          "mark": {"type": "line", "strokeWidth": 2, "clip": true, "interpolate": "monotone"},
          "encoding": {
            "x": {"field": "w", "type": "quantitative"},
            "y": {"field": "v", "type": "quantitative", "scale": {"domain": [0, 0.5], "nice": false}, "axis": {"orient": "right", "labels": false, "values": [0,0.1,0.2,0.3,0.4,0.5], "title": "BE statistics", "titlePadding": 14}},
            "color": {"field": "s", "type": "nominal"},
            "detail": {"field": "T"}
          }
        }
      ],
      "resolve": {"scale": {"y": "independent"}}
    },
    {
      "width": 503,
      "height": 139,
      "layer": [
        {
          "data": {"name": "bot"},
          "transform": [{"filter": "datum.s !== 'S'"}],
          "mark": {"type": "line", "strokeWidth": 2.6, "clip": true},
          "encoding": {
            "x": {"field": "w", "type": "quantitative", "scale": {"domain": [0, 50], "nice": false}, "axis": {"values": [0,2.5,5,7.5,10,12.5,15,17.5,20,22.5,25,27.5,30,32.5,35,37.5,40,42.5,45,47.5,50], "labelExpr": "datum.value % 5 === 0 ? datum.label : ''", "labelPadding": 15, "title": "ω (meV)", "titlePadding": 11}},
            "y": {"field": "v", "type": "quantitative", "scale": {"domain": [0, 0.27], "nice": false}, "axis": {"values": [0,0.05,0.1,0.15,0.2,0.25], "labelExpr": "round(datum.value*100) % 10 === 0 ? format(datum.value, '.1f') : ''", "title": null}},
            "color": {"field": "s", "type": "nominal", "scale": {"domain": ["Cu₁+ Cu₂", "Cu₃+Cu₄", "Cu₅+ Cu₆", "Cu₇+Cu₈", "S"], "range": ["#44eeee", "#f577f5", "#808000", "#1b7a1b", "#ff1010"]},
              "legend": {"title": null, "orient": "top-left", "offset": 9, "columns": 2, "direction": "horizontal", "symbolType": "M-1,0H3", "symbolSize": 380, "symbolStrokeWidth": 3, "labelFontSize": 16, "labelColor": "#1a1a1a", "labelOffset": 24, "rowPadding": 4, "columnPadding": -9, "padding": 0}}
          }
        },
        {
          "data": {"name": "bot"},
          "transform": [{"filter": "datum.s === 'S'"}],
          "mark": {"type": "line", "strokeWidth": 2.6, "clip": true},
          "encoding": {
            "x": {"field": "w", "type": "quantitative"},
            "y": {"field": "v", "type": "quantitative", "scale": {"domain": [0, 0.27], "nice": false}, "axis": {"orient": "right", "labels": false, "values": [0,0.05,0.1,0.15,0.2,0.25], "title": null}},
            "color": {"field": "s", "type": "nominal"}
          }
        }
      ],
      "resolve": {"scale": {"y": "independent"}}
    }
  ]
}
